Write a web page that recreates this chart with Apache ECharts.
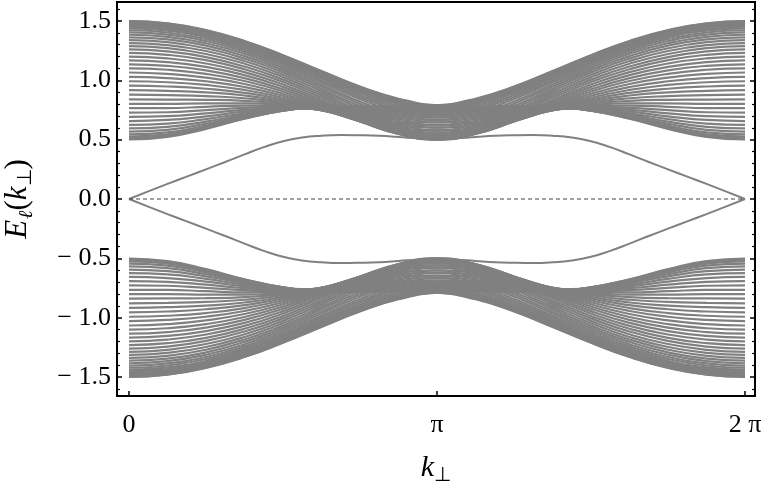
<!DOCTYPE html>
<html><head><meta charset="utf-8">
<script src="https://cdn.jsdelivr.net/npm/echarts@6/dist/echarts.min.js"></script>
<style>html,body{margin:0;padding:0;background:#fff}#c{width:764px;height:490px}</style>
</head><body><div id="c"></div>
<script>
// k_perp sample points for the bulk levels (0 .. 2π)
const kValues = [0, 0.3927, 0.7854, 1.1781, 1.5708, 1.9635, 2.3562, 2.7489, 3.1416, 3.5343, 3.9270, 4.3197, 4.7124, 5.1051, 5.4978, 5.8905, 6.2832];

// upper bulk band: one row per level ℓ (levels cross at k = π)
const upperBand = [
[1.499,1.480,1.423,1.332,1.212,1.078,0.947,0.845,0.789,0.777,0.784,0.779,0.744,0.676,0.591,0.524,0.503],
[1.496,1.477,1.420,1.329,1.209,1.074,0.944,0.841,0.785,0.774,0.781,0.778,0.744,0.679,0.597,0.532,0.512],
[1.491,1.472,1.415,1.324,1.205,1.069,0.938,0.834,0.778,0.767,0.777,0.776,0.745,0.683,0.606,0.544,0.526],
[1.484,1.465,1.409,1.317,1.198,1.062,0.929,0.825,0.769,0.759,0.771,0.773,0.747,0.690,0.618,0.562,0.545],
[1.476,1.457,1.400,1.309,1.189,1.053,0.919,0.813,0.757,0.748,0.763,0.770,0.749,0.699,0.634,0.583,0.568],
[1.465,1.446,1.390,1.299,1.179,1.042,0.907,0.800,0.742,0.736,0.754,0.766,0.752,0.709,0.652,0.608,0.595],
[1.452,1.434,1.378,1.287,1.167,1.029,0.893,0.784,0.726,0.721,0.744,0.763,0.756,0.722,0.673,0.635,0.625],
[1.438,1.419,1.364,1.273,1.153,1.015,0.877,0.766,0.708,0.705,0.733,0.759,0.761,0.736,0.697,0.666,0.657],
[1.422,1.403,1.348,1.258,1.139,0.999,0.860,0.747,0.688,0.688,0.722,0.755,0.766,0.751,0.722,0.698,0.692],
[1.404,1.385,1.331,1.242,1.122,0.983,0.842,0.727,0.667,0.670,0.710,0.752,0.773,0.768,0.749,0.731,0.728],
[1.384,1.366,1.312,1.224,1.105,0.965,0.822,0.705,0.645,0.651,0.698,0.749,0.780,0.787,0.777,0.766,0.765],
[1.362,1.345,1.292,1.204,1.086,0.947,0.803,0.683,0.623,0.633,0.687,0.748,0.789,0.806,0.806,0.802,0.802],
[1.339,1.322,1.270,1.184,1.067,0.928,0.783,0.662,0.601,0.615,0.677,0.747,0.800,0.827,0.836,0.838,0.840],
[1.314,1.297,1.247,1.163,1.047,0.909,0.763,0.640,0.579,0.598,0.668,0.748,0.811,0.849,0.867,0.875,0.879],
[1.288,1.271,1.222,1.140,1.027,0.890,0.744,0.620,0.559,0.583,0.661,0.751,0.824,0.872,0.898,0.911,0.917],
[1.260,1.244,1.196,1.117,1.006,0.871,0.726,0.601,0.541,0.569,0.656,0.755,0.838,0.895,0.929,0.948,0.955],
[1.231,1.215,1.170,1.093,0.986,0.853,0.709,0.584,0.526,0.559,0.654,0.761,0.853,0.919,0.961,0.984,0.992],
[1.200,1.185,1.142,1.069,0.965,0.835,0.694,0.570,0.513,0.552,0.653,0.769,0.870,0.944,0.992,1.019,1.029],
[1.168,1.154,1.113,1.044,0.945,0.819,0.680,0.559,0.505,0.548,0.656,0.779,0.887,0.969,1.023,1.054,1.066],
[1.135,1.122,1.084,1.019,0.925,0.804,0.670,0.552,0.501,0.548,0.662,0.791,0.906,0.994,1.054,1.089,1.101],
[1.101,1.089,1.054,0.994,0.906,0.791,0.662,0.548,0.501,0.552,0.670,0.804,0.925,1.019,1.084,1.122,1.135],
[1.066,1.054,1.023,0.969,0.887,0.779,0.656,0.548,0.505,0.559,0.680,0.819,0.945,1.044,1.113,1.154,1.168],
[1.029,1.019,0.992,0.944,0.870,0.769,0.653,0.552,0.513,0.570,0.694,0.835,0.965,1.069,1.142,1.185,1.200],
[0.992,0.984,0.961,0.919,0.853,0.761,0.654,0.559,0.526,0.584,0.709,0.853,0.986,1.093,1.170,1.215,1.231],
[0.955,0.948,0.929,0.895,0.838,0.755,0.656,0.569,0.541,0.601,0.726,0.871,1.006,1.117,1.196,1.244,1.260],
[0.917,0.911,0.898,0.872,0.824,0.751,0.661,0.583,0.559,0.620,0.744,0.890,1.027,1.140,1.222,1.271,1.288],
[0.879,0.875,0.867,0.849,0.811,0.748,0.668,0.598,0.579,0.640,0.763,0.909,1.047,1.163,1.247,1.297,1.314],
[0.840,0.838,0.836,0.827,0.800,0.747,0.677,0.615,0.601,0.662,0.783,0.928,1.067,1.184,1.270,1.322,1.339],
[0.802,0.802,0.806,0.806,0.789,0.748,0.687,0.633,0.623,0.683,0.803,0.947,1.086,1.204,1.292,1.345,1.362],
[0.765,0.766,0.777,0.787,0.780,0.749,0.698,0.651,0.645,0.705,0.822,0.965,1.105,1.224,1.312,1.366,1.384],
[0.728,0.731,0.749,0.768,0.773,0.752,0.710,0.670,0.667,0.727,0.842,0.983,1.122,1.242,1.331,1.385,1.404],
[0.692,0.698,0.722,0.751,0.766,0.755,0.722,0.688,0.688,0.747,0.860,0.999,1.139,1.258,1.348,1.403,1.422],
[0.657,0.666,0.697,0.736,0.761,0.759,0.733,0.705,0.708,0.766,0.877,1.015,1.153,1.273,1.364,1.419,1.438],
[0.625,0.635,0.673,0.722,0.756,0.763,0.744,0.721,0.726,0.784,0.893,1.029,1.167,1.287,1.378,1.434,1.452],
[0.595,0.608,0.652,0.709,0.752,0.766,0.754,0.736,0.742,0.800,0.907,1.042,1.179,1.299,1.390,1.446,1.465],
[0.568,0.583,0.634,0.699,0.749,0.770,0.763,0.748,0.757,0.813,0.919,1.053,1.189,1.309,1.400,1.457,1.476],
[0.545,0.562,0.618,0.690,0.747,0.773,0.771,0.759,0.769,0.825,0.929,1.062,1.198,1.317,1.409,1.465,1.484],
[0.526,0.544,0.606,0.683,0.745,0.776,0.777,0.767,0.778,0.834,0.938,1.069,1.205,1.324,1.415,1.472,1.491],
[0.512,0.532,0.597,0.679,0.744,0.778,0.781,0.774,0.785,0.841,0.944,1.074,1.209,1.329,1.420,1.477,1.496],
[0.503,0.524,0.591,0.676,0.744,0.779,0.784,0.777,0.789,0.845,0.947,1.078,1.212,1.332,1.423,1.480,1.499]
];

// lower bulk band
const lowerBand = [
[-1.499,-1.480,-1.423,-1.332,-1.212,-1.078,-0.947,-0.845,-0.789,-0.777,-0.784,-0.779,-0.744,-0.676,-0.591,-0.524,-0.503],
[-1.496,-1.477,-1.420,-1.329,-1.209,-1.074,-0.944,-0.841,-0.785,-0.774,-0.781,-0.778,-0.744,-0.679,-0.597,-0.532,-0.512],
[-1.491,-1.472,-1.415,-1.324,-1.205,-1.069,-0.938,-0.834,-0.778,-0.767,-0.777,-0.776,-0.745,-0.683,-0.606,-0.544,-0.526],
[-1.484,-1.465,-1.409,-1.317,-1.198,-1.062,-0.929,-0.825,-0.769,-0.759,-0.771,-0.773,-0.747,-0.690,-0.618,-0.562,-0.545],
[-1.476,-1.457,-1.400,-1.309,-1.189,-1.053,-0.919,-0.813,-0.757,-0.748,-0.763,-0.770,-0.749,-0.699,-0.634,-0.583,-0.568],
[-1.465,-1.446,-1.390,-1.299,-1.179,-1.042,-0.907,-0.800,-0.742,-0.736,-0.754,-0.766,-0.752,-0.709,-0.652,-0.608,-0.595],
[-1.452,-1.434,-1.378,-1.287,-1.167,-1.029,-0.893,-0.784,-0.726,-0.721,-0.744,-0.763,-0.756,-0.722,-0.673,-0.635,-0.625],
[-1.438,-1.419,-1.364,-1.273,-1.153,-1.015,-0.877,-0.766,-0.708,-0.705,-0.733,-0.759,-0.761,-0.736,-0.697,-0.666,-0.657],
[-1.422,-1.403,-1.348,-1.258,-1.139,-0.999,-0.860,-0.747,-0.688,-0.688,-0.722,-0.755,-0.766,-0.751,-0.722,-0.698,-0.692],
[-1.404,-1.385,-1.331,-1.242,-1.122,-0.983,-0.842,-0.727,-0.667,-0.670,-0.710,-0.752,-0.773,-0.768,-0.749,-0.731,-0.728],
[-1.384,-1.366,-1.312,-1.224,-1.105,-0.965,-0.822,-0.705,-0.645,-0.651,-0.698,-0.749,-0.780,-0.787,-0.777,-0.766,-0.765],
[-1.362,-1.345,-1.292,-1.204,-1.086,-0.947,-0.803,-0.683,-0.623,-0.633,-0.687,-0.748,-0.789,-0.806,-0.806,-0.802,-0.802],
[-1.339,-1.322,-1.270,-1.184,-1.067,-0.928,-0.783,-0.662,-0.601,-0.615,-0.677,-0.747,-0.800,-0.827,-0.836,-0.838,-0.840],
[-1.314,-1.297,-1.247,-1.163,-1.047,-0.909,-0.763,-0.640,-0.579,-0.598,-0.668,-0.748,-0.811,-0.849,-0.867,-0.875,-0.879],
[-1.288,-1.271,-1.222,-1.140,-1.027,-0.890,-0.744,-0.620,-0.559,-0.583,-0.661,-0.751,-0.824,-0.872,-0.898,-0.911,-0.917],
[-1.260,-1.244,-1.196,-1.117,-1.006,-0.871,-0.726,-0.601,-0.541,-0.569,-0.656,-0.755,-0.838,-0.895,-0.929,-0.948,-0.955],
[-1.231,-1.215,-1.170,-1.093,-0.986,-0.853,-0.709,-0.584,-0.526,-0.559,-0.654,-0.761,-0.853,-0.919,-0.961,-0.984,-0.992],
[-1.200,-1.185,-1.142,-1.069,-0.965,-0.835,-0.694,-0.570,-0.513,-0.552,-0.653,-0.769,-0.870,-0.944,-0.992,-1.019,-1.029],
[-1.168,-1.154,-1.113,-1.044,-0.945,-0.819,-0.680,-0.559,-0.505,-0.548,-0.656,-0.779,-0.887,-0.969,-1.023,-1.054,-1.066],
[-1.135,-1.122,-1.084,-1.019,-0.925,-0.804,-0.670,-0.552,-0.501,-0.548,-0.662,-0.791,-0.906,-0.994,-1.054,-1.089,-1.101],
[-1.101,-1.089,-1.054,-0.994,-0.906,-0.791,-0.662,-0.548,-0.501,-0.552,-0.670,-0.804,-0.925,-1.019,-1.084,-1.122,-1.135],
[-1.066,-1.054,-1.023,-0.969,-0.887,-0.779,-0.656,-0.548,-0.505,-0.559,-0.680,-0.819,-0.945,-1.044,-1.113,-1.154,-1.168],
[-1.029,-1.019,-0.992,-0.944,-0.870,-0.769,-0.653,-0.552,-0.513,-0.570,-0.694,-0.835,-0.965,-1.069,-1.142,-1.185,-1.200],
[-0.992,-0.984,-0.961,-0.919,-0.853,-0.761,-0.654,-0.559,-0.526,-0.584,-0.709,-0.853,-0.986,-1.093,-1.170,-1.215,-1.231],
[-0.955,-0.948,-0.929,-0.895,-0.838,-0.755,-0.656,-0.569,-0.541,-0.601,-0.726,-0.871,-1.006,-1.117,-1.196,-1.244,-1.260],
[-0.917,-0.911,-0.898,-0.872,-0.824,-0.751,-0.661,-0.583,-0.559,-0.620,-0.744,-0.890,-1.027,-1.140,-1.222,-1.271,-1.288],
[-0.879,-0.875,-0.867,-0.849,-0.811,-0.748,-0.668,-0.598,-0.579,-0.640,-0.763,-0.909,-1.047,-1.163,-1.247,-1.297,-1.314],
[-0.840,-0.838,-0.836,-0.827,-0.800,-0.747,-0.677,-0.615,-0.601,-0.662,-0.783,-0.928,-1.067,-1.184,-1.270,-1.322,-1.339],
[-0.802,-0.802,-0.806,-0.806,-0.789,-0.748,-0.687,-0.633,-0.623,-0.683,-0.803,-0.947,-1.086,-1.204,-1.292,-1.345,-1.362],
[-0.765,-0.766,-0.777,-0.787,-0.780,-0.749,-0.698,-0.651,-0.645,-0.705,-0.822,-0.965,-1.105,-1.224,-1.312,-1.366,-1.384],
[-0.728,-0.731,-0.749,-0.768,-0.773,-0.752,-0.710,-0.670,-0.667,-0.727,-0.842,-0.983,-1.122,-1.242,-1.331,-1.385,-1.404],
[-0.692,-0.698,-0.722,-0.751,-0.766,-0.755,-0.722,-0.688,-0.688,-0.747,-0.860,-0.999,-1.139,-1.258,-1.348,-1.403,-1.422],
[-0.657,-0.666,-0.697,-0.736,-0.761,-0.759,-0.733,-0.705,-0.708,-0.766,-0.877,-1.015,-1.153,-1.273,-1.364,-1.419,-1.438],
[-0.625,-0.635,-0.673,-0.722,-0.756,-0.763,-0.744,-0.721,-0.726,-0.784,-0.893,-1.029,-1.167,-1.287,-1.378,-1.434,-1.452],
[-0.595,-0.608,-0.652,-0.709,-0.752,-0.766,-0.754,-0.736,-0.742,-0.800,-0.907,-1.042,-1.179,-1.299,-1.390,-1.446,-1.465],
[-0.568,-0.583,-0.634,-0.699,-0.749,-0.770,-0.763,-0.748,-0.757,-0.813,-0.919,-1.053,-1.189,-1.309,-1.400,-1.457,-1.476],
[-0.545,-0.562,-0.618,-0.690,-0.747,-0.773,-0.771,-0.759,-0.769,-0.825,-0.929,-1.062,-1.198,-1.317,-1.409,-1.465,-1.484],
[-0.526,-0.544,-0.606,-0.683,-0.745,-0.776,-0.777,-0.767,-0.778,-0.834,-0.938,-1.069,-1.205,-1.324,-1.415,-1.472,-1.491],
[-0.512,-0.532,-0.597,-0.679,-0.744,-0.778,-0.781,-0.774,-0.785,-0.841,-0.944,-1.074,-1.209,-1.329,-1.420,-1.477,-1.496],
[-0.503,-0.524,-0.591,-0.676,-0.744,-0.779,-0.784,-0.777,-0.789,-0.845,-0.947,-1.078,-1.212,-1.332,-1.423,-1.480,-1.499]
];

// edge states, finer k sampling
const kEdge = [0, 0.19635, 0.3927, 0.58905, 0.7854, 0.98175, 1.1781, 1.37445, 1.5708, 1.76715, 1.9635, 2.15985, 2.3562, 2.55255, 2.7489, 2.94525, 3.1416,
               3.33795, 3.5343, 3.73065, 3.927, 4.12335, 4.3197, 4.51605, 4.7124, 4.90875, 5.1051, 5.30145, 5.4978, 5.69415, 5.8905, 6.08685, 6.2832];
const edgeUpper = [0, 0.064, 0.127, 0.189, 0.250, 0.312, 0.376, 0.437, 0.487, 0.518, 0.533, 0.539, 0.537, 0.532, 0.522, 0.511, 0.503,
                   0.511, 0.522, 0.532, 0.537, 0.539, 0.533, 0.518, 0.487, 0.437, 0.376, 0.312, 0.250, 0.189, 0.127, 0.064, 0];
const edgeLower = [0, -0.064, -0.127, -0.189, -0.250, -0.312, -0.376, -0.437, -0.487, -0.518, -0.533, -0.539, -0.537, -0.532, -0.522, -0.511, -0.503,
                   -0.511, -0.522, -0.532, -0.537, -0.539, -0.533, -0.518, -0.487, -0.437, -0.376, -0.312, -0.250, -0.189, -0.127, -0.064, 0];

// zero reference line
const zeroLineK = [0, 6.2832];
const zeroLineE = [0, 0];

// ticks
const xTickValues = [0, Math.PI, 2 * Math.PI];
const xTickLabels = ['0', 'π', '2 π'];
const yTickValues = [-1.5, -1.0, -0.5, 0, 0.5, 1.0, 1.5];
const yTickLabels = ['\u2212 1.5', '\u2212 1.0', '\u2212 0.5', '0.0', '0.5', '1.0', '1.5'];
const yMinorValues = [-1.6, -1.4, -1.3, -1.2, -1.1, -0.9, -0.8, -0.7, -0.6, -0.4, -0.3, -0.2, -0.1,
                      0.1, 0.2, 0.3, 0.4, 0.6, 0.7, 0.8, 0.9, 1.1, 1.2, 1.3, 1.4, 1.6];

const FONT = "'Liberation Serif', 'Times New Roman', serif";
const GRAY = '#808080';

function lookup(values, labels) {
  return function (v) {
    for (let i = 0; i < values.length; i++) if (Math.abs(v - values[i]) < 1e-6) return labels[i];
    return '';
  };
}

const series = [];
upperBand.concat(lowerBand).forEach(function (row) {
  series.push({
    type: 'line', data: row.map(function (v, i) { return [kValues[i], v]; }),
    smooth: true, symbol: 'none', silent: true, animation: false,
    lineStyle: { color: GRAY, width: 2.2 }
  });
});
[edgeUpper, edgeLower].forEach(function (row) {
  series.push({
    type: 'line', data: row.map(function (v, i) { return [kEdge[i], v]; }),
    smooth: true, symbol: 'none', silent: true, animation: false,
    lineStyle: { color: GRAY, width: 2 }
  });
});
series.push({
  type: 'line', data: zeroLineK.map(function (k, i) { return [k, zeroLineE[i]]; }),
  symbol: 'none', silent: true, animation: false,
  lineStyle: { color: '#444', width: 1, type: [4, 3] }
});

const yBase = { type: 'value', min: -1.66, max: 1.66, axisLine: { show: false, onZero: false }, splitLine: { show: false } };

const chart = echarts.init(document.getElementById('c'), null, { renderer: 'canvas' });
chart.setOption({
  backgroundColor: '#fff',
  animation: false,
  grid: { left: 117, right: 9, top: 2, bottom: 94, show: true, borderColor: '#000', borderWidth: 2,
          backgroundColor: 'transparent', containLabel: false, outerBoundsMode: 'none' },
  xAxis: [{
    type: 'value', min: -0.1224, max: 6.3852, position: 'bottom',
    axisLine: { show: false, onZero: false }, splitLine: { show: false },
    axisTick: { show: true, inside: true, length: 5, customValues: xTickValues, lineStyle: { color: '#000', width: 1.5 } },
    axisLabel: { customValues: xTickValues, formatter: lookup(xTickValues, xTickLabels), margin: 16,
      fontFamily: FONT, fontSize: 26, color: '#000' },
    name: '{i|k}{s|⊥}', nameLocation: 'middle', nameGap: 54,
    nameTextStyle: { rich: {
      i: { fontFamily: FONT, fontStyle: 'italic', fontSize: 30, color: '#000' },
      s: { fontFamily: FONT, fontSize: 20, color: '#000', padding: [16, 0, 0, 0] }
    } }
  }],
  yAxis: [
    Object.assign({}, yBase, {
      position: 'left',
      axisTick: { show: true, inside: true, length: 5, customValues: yTickValues, lineStyle: { color: '#000', width: 1.5 } },
      axisLabel: { customValues: yTickValues, formatter: lookup(yTickValues, yTickLabels), margin: 6,
        fontFamily: FONT, fontSize: 26, color: '#000' },
      name: '{i|E}{si|ℓ}{n|(}{i|k}{s|⊥}{n|)}', nameLocation: 'middle', nameGap: 80, nameRotate: 90,
      nameTextStyle: { rich: {
        i: { fontFamily: FONT, fontStyle: 'italic', fontSize: 31, color: '#000' },
        n: { fontFamily: FONT, fontSize: 31, color: '#000' },
        si: { fontFamily: FONT, fontStyle: 'italic', fontSize: 20, color: '#000', padding: [18, 0, 0, 1] },
        s: { fontFamily: FONT, fontSize: 20, color: '#000', padding: [16, 0, 0, 0] }
      } }
    }),
    Object.assign({}, yBase, {
      position: 'left',
      axisTick: { show: true, inside: true, length: 3, customValues: yMinorValues, lineStyle: { color: '#000', width: 1.2 } },
      axisLabel: { show: false }
    }),
    Object.assign({}, yBase, {
      position: 'right',
      axisTick: { show: true, inside: true, length: 5, customValues: yTickValues, lineStyle: { color: '#000', width: 1.5 } },
      axisLabel: { show: false }
    }),
    Object.assign({}, yBase, {
      position: 'right',
      axisTick: { show: true, inside: true, length: 3, customValues: yMinorValues, lineStyle: { color: '#000', width: 1.2 } },
      axisLabel: { show: false }
    })
  ],
  series: series
});
</script>
</body></html>
